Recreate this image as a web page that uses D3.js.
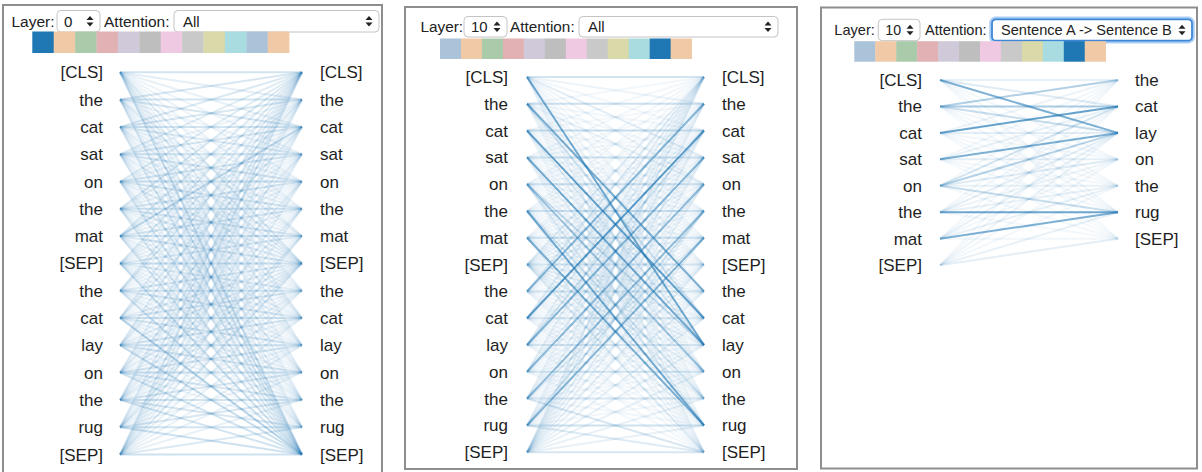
<!DOCTYPE html>
<html><head><meta charset="utf-8">
<script src="https://cdn.jsdelivr.net/npm/d3@7"></script>
<style>
html,body{margin:0;padding:0;background:#fff;}
svg{display:block;font-family:"Liberation Sans",Arial,Helvetica,sans-serif;}
</style></head><body>
<svg id="c" width="1202" height="472"></svg>
<script>
// ---------- data ----------
const tokens = ["[CLS]","the","cat","sat","on","the","mat","[SEP]","the","cat","lay","on","the","rug","[SEP]"];
const sentenceA = ["[CLS]","the","cat","sat","on","the","mat","[SEP]"];
const sentenceB = ["the","cat","lay","on","the","rug","[SEP]"];
const layerLabels = ["0","10","10"];
const attentionLabels = ["All","All","Sentence A -> Sentence B"];
const selectedHeads = [0,10,10];
const headCount = 12;

// attention weights (percent), rows = attending token (left), cols = attended token (right)
const attnLayer0 = [
 [20,12,10, 8, 8, 8, 8,14, 8,10,10, 8, 8, 8,22],
 [18,20,18, 8, 6, 6,10,12, 6, 8, 6, 6, 6, 6,18],
 [16,18,20,16, 8, 6, 6,12, 6, 8, 6, 6, 6, 6,16],
 [14, 8,18,20,18, 8, 6,12, 6, 6, 8, 6, 6, 6,16],
 [14, 6, 8,18,22,18, 8,12, 6, 6, 6,10, 6, 6,16],
 [16,10, 6, 8,18,20,18,12, 8, 6, 6, 6,10, 6,16],
 [14, 8,28, 6, 8,18,20,18, 6,10, 6, 6, 6,10,16],
 [14, 8, 8, 8, 8, 8,16,22,14, 8, 8, 8, 8, 8,22],
 [12,14, 6, 6, 6, 6, 6,16,20,18, 8, 6,10, 6,20],
 [12, 6,14, 6, 6, 6, 6,12,18,20,18, 8, 6, 6,32],
 [12, 6, 6,12, 6, 6, 6,12, 8,18,20,18, 8, 6,24],
 [12, 6, 6, 6,12, 6, 6,12, 6, 8,18,22,18, 8,20],
 [12,10, 6, 6, 6,12, 6,12,10, 6, 8,18,20,18,20],
 [12, 6, 6, 6, 6, 6,14,12, 6, 8, 6, 8,18,20,22],
 [16,10,10,10,10,10,10,16,10,10,10,10,10,16,22]
];
const attnLayer10 = [
 [20, 8, 6,12, 8, 5, 5, 6, 5, 6,62, 5, 5, 5, 6],
 [ 6,22, 6, 6,10, 5, 4, 6,58,20, 6, 5, 5, 4, 5],
 [ 6, 5,25, 6, 5, 5, 4, 5, 6,68,15, 5, 4, 4, 5],
 [ 6, 5, 6,22, 6, 5, 4, 5, 5, 8,62,10, 5, 5, 5],
 [ 6, 5, 5, 6,22, 6, 5, 5, 5, 6,25,42, 8,15, 6],
 [ 5, 5, 5, 5, 6,22, 6, 5, 6, 5, 6, 8,20,62, 6],
 [ 5, 5, 5, 5, 5, 6,22, 6, 5, 6, 8, 6, 8,58, 8],
 [12, 8, 8, 8, 8, 8, 8,20,10,10,10,10,10,10,15],
 [15,52,10, 6, 5, 5, 5, 6,20, 6, 5, 5, 5, 5, 6],
 [12, 6,72, 6, 5, 5, 5, 6, 6,18, 6, 5, 5, 5, 6],
 [10, 5,20,52, 8, 5, 5, 6, 5, 6,18, 5, 5, 5, 6],
 [10, 5, 6,10,48, 8, 5, 6, 5, 5, 6,20, 5, 5, 6],
 [ 8, 5, 5, 6, 8,48,15, 6, 5, 5, 5, 6,18, 6,18],
 [ 8, 5, 5, 5, 6,20,52, 8, 5, 5, 5, 5, 6,22,15],
 [12,10,10,10,10,10,10,12,10,10,10,10,10,10,18]
];
const attnAtoB = [
 [10,15,58, 6, 5, 6, 4],
 [35,38,25, 6, 5, 6, 4],
 [ 8,68,12, 6, 5, 6, 4],
 [ 6,10,58,12, 6, 6, 4],
 [ 6,20,32,15,10,25, 5],
 [ 5, 6,12, 8,10,65, 5],
 [ 5, 5,10, 6,10,58, 6],
 [ 5, 5, 8, 6, 6,10,12]
];

// ---------- layout / style ----------
const selectedColor = "#1f77b4";
const headPalette = ["#aac3d9","#f0c9a6","#a9cba9","#e2b1b3","#d0c9d9","#bebebe","#efc9e1","#c9c9c9","#d9d9a9","#a9dce1","#aac3d9","#f0c9a6"];
const lineColor = "#1f77b4";
const panels = [
 {box:[3,5,379,520], ctrlY:10.5, ctrlH:21.5, fs:15.5, layerX:11.5, layerSel:[57,43], attnX:104, attnSel:[174,205],
  sw:[32.3,31.5,21.4,21.5], rows:[72.3,27.3], lx:103, x1:120, x2:302, rx:320,
  left:tokens, right:tokens, attn:attnLayer0, focus:false},
 {box:[405,7,392,462], ctrlY:16.5, ctrlH:20.5, fs:15.3, layerX:420.5, layerSel:[464,43], attnX:510, attnSel:[579,199],
  sw:[440,38.5,20.97,20.5], rows:[77,26.8], lx:508, x1:527, x2:704, rx:722,
  left:tokens, right:tokens, attn:attnLayer10, focus:false},
 {box:[821,7.5,376,461], ctrlY:19.3, ctrlH:21.4, fs:14.6, layerX:834.3, layerSel:[878.3,41.7], attnX:925, attnSel:[992,200],
  sw:[854.3,41.2,20.95,20.5], rows:[80,26.45], lx:922, x1:940, x2:1118, rx:1135,
  left:sentenceA, right:sentenceB, attn:attnAtoB, focus:true}
];

const svg = d3.select("#c");
const opacity = d3.scaleLinear().domain([0,100]).range([0,1]).clamp(true);

function arrows(g, cx, cy){
  g.append("path").attr("d",`M${cx-3.5},${cy-1.2}L${cx+3.5},${cy-1.2}L${cx},${cy-5.2}Z`).attr("fill","#222");
  g.append("path").attr("d",`M${cx-3.5},${cy+1.2}L${cx+3.5},${cy+1.2}L${cx},${cy+5.2}Z`).attr("fill","#222");
}

panels.forEach((p,pi)=>{
  const g = svg.append("g");
  // frame
  g.append("rect").attr("x",p.box[0]).attr("y",p.box[1]).attr("width",p.box[2]).attr("height",p.box[3])
    .attr("fill","#fff").attr("stroke","#8e8e8e").attr("stroke-width",2);

  const cy = p.ctrlY + p.ctrlH/2;
  // labels
  g.append("text").attr("x",p.layerX).attr("y",cy+5.3).attr("font-size",p.fs).attr("fill","#222").text("Layer:");
  g.append("text").attr("x",p.attnX).attr("y",cy+5.3).attr("font-size",p.fs).attr("fill","#222").text("Attention:");
  // layer select
  g.append("rect").attr("x",p.layerSel[0]).attr("y",p.ctrlY).attr("width",p.layerSel[1]).attr("height",p.ctrlH)
    .attr("rx",4).attr("fill","#fff").attr("stroke","#c4c4c4").attr("stroke-width",1);
  g.append("text").attr("x",p.layerSel[0]+7).attr("y",cy+5.3).attr("font-size",p.fs-0.4).attr("fill","#222").text(layerLabels[pi]);
  arrows(g, p.layerSel[0]+p.layerSel[1]-10, cy);
  // attention select
  if(p.focus){
    g.append("rect").attr("x",p.attnSel[0]-1.5).attr("y",p.ctrlY-1.5).attr("width",p.attnSel[1]+3).attr("height",p.ctrlH+3)
      .attr("rx",5).attr("fill","none").attr("stroke","#a9cdf3").attr("stroke-width",2.5);
  }
  g.append("rect").attr("x",p.attnSel[0]).attr("y",p.ctrlY).attr("width",p.attnSel[1]).attr("height",p.ctrlH)
    .attr("rx",4).attr("fill","#fff").attr("stroke",p.focus?"#3f86d6":"#c4c4c4").attr("stroke-width",p.focus?1.8:1);
  g.append("text").attr("x",p.attnSel[0]+(p.focus?9:9)).attr("y",cy+5.3).attr("font-size",p.focus?14.6:15).attr("fill","#222").text(attentionLabels[pi]);
  arrows(g, p.attnSel[0]+p.attnSel[1]-10, cy);

  // head swatches
  const xs = d3.scaleBand().domain(d3.range(headCount)).range([p.sw[0], p.sw[0]+p.sw[2]*headCount]).padding(0);
  g.selectAll("rect.sw").data(d3.range(headCount)).join("rect").attr("class","sw")
    .attr("x",d=>xs(d)).attr("y",p.sw[1]).attr("width",xs.bandwidth()+0.3).attr("height",p.sw[3])
    .attr("fill",d=> d===selectedHeads[pi] ? selectedColor : headPalette[d]);

  // token scales
  const yl = d3.scaleLinear().domain([0,1]).range([p.rows[0], p.rows[0]+p.rows[1]]);
  const xpos = d3.scalePoint().domain(["left","right"]).range([p.x1,p.x2]);

  // attention lines
  const links = [];
  p.attn.forEach((row,i)=>row.forEach((w,j)=>links.push({i,j,w})));
  g.selectAll("line.att").data(links).join("line").attr("class","att")
    .attr("x1",xpos("left")).attr("x2",xpos("right"))
    .attr("y1",d=>yl(d.i)).attr("y2",d=>yl(d.j))
    .attr("stroke",lineColor).attr("stroke-width",2).attr("stroke-opacity",d=>opacity(d.w));

  // token labels
  g.selectAll("text.lt").data(p.left).join("text").attr("class","lt")
    .attr("x",p.lx).attr("y",(d,i)=>yl(i)+6).attr("text-anchor","end").attr("font-size",17).attr("fill","#1e1e1e").text(d=>d);
  g.selectAll("text.rt").data(p.right).join("text").attr("class","rt")
    .attr("x",p.rx).attr("y",(d,i)=>yl(i)+6).attr("text-anchor","start").attr("font-size",17).attr("fill","#1e1e1e").text(d=>d);
});
</script>
</body></html>
